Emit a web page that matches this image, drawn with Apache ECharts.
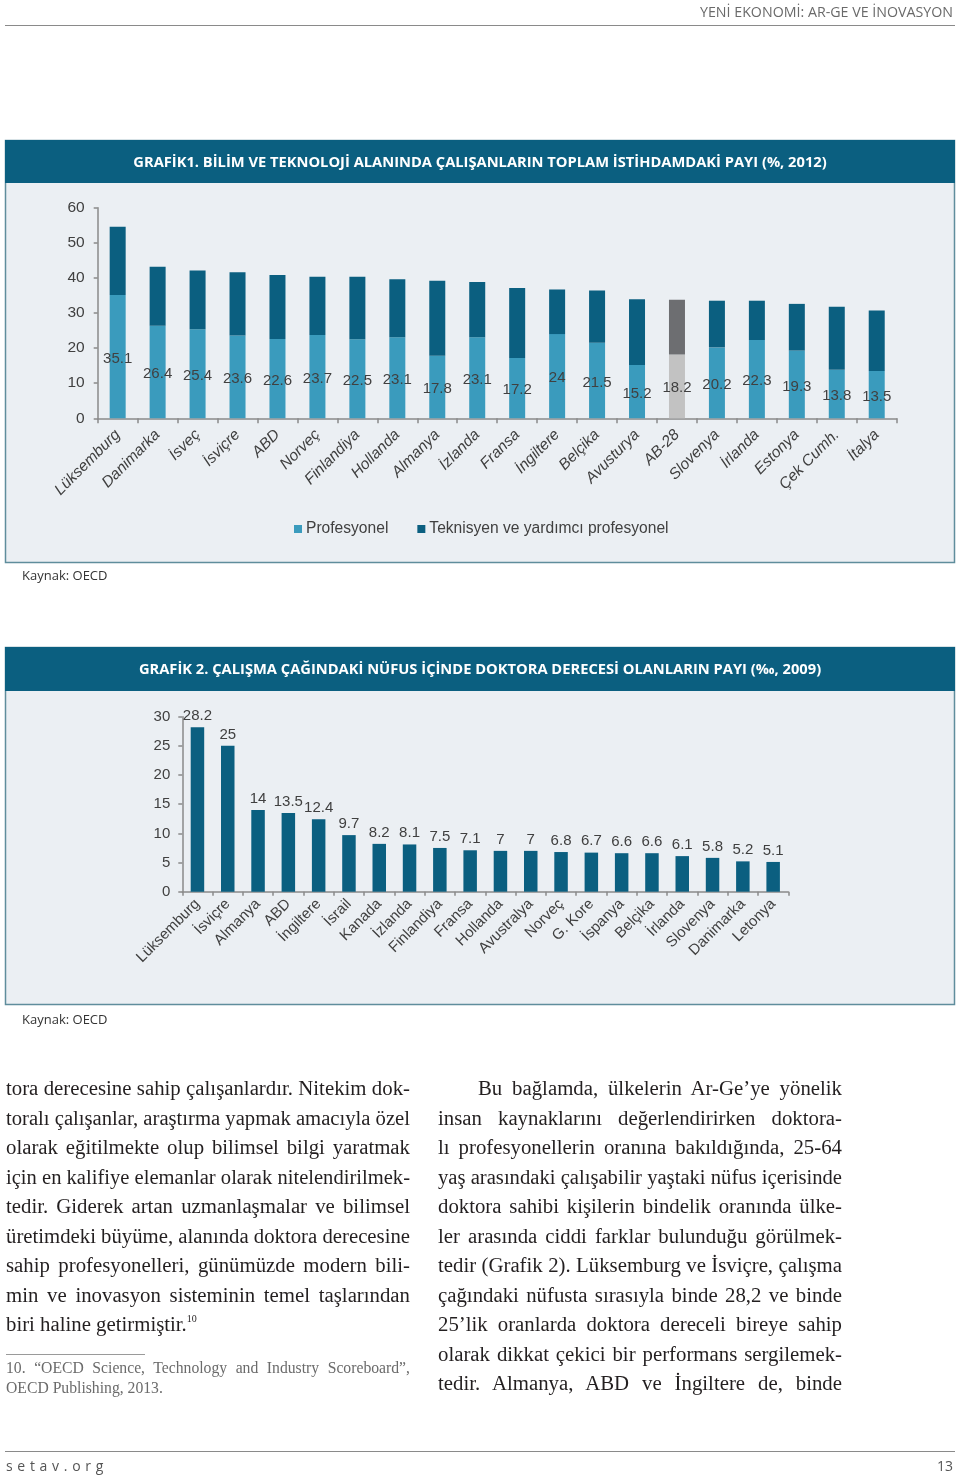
<!DOCTYPE html>
<html><head><meta charset="utf-8">
<script src="https://cdn.jsdelivr.net/npm/echarts@6.0.0/dist/echarts.min.js"></script>
<style>
html,body{margin:0;padding:0;background:#fff;}
#page{position:relative;width:960px;height:1476px;overflow:hidden;background:#fff;}
#chart{position:absolute;left:0;top:0;width:960px;height:1476px;}
.abs{position:absolute;white-space:nowrap;}
.rule{position:absolute;height:0;border-top:1px solid #8a8a8a;}
.col{position:absolute;font-family:'Liberation Serif','DejaVu Serif',serif;font-size:20.8px;color:#231f20;}
.ln{height:29.5px;line-height:29.5px;white-space:nowrap;}
.ln span{display:inline-block;white-space:nowrap;transform-origin:left center;}
sup{font-size:10px;vertical-align:9px;line-height:0;}
</style>
</head><body>
<div id="page">
<div id="chart"></div>
<div class="abs" id="runhead" style="right:7px;top:2px;font-family:'Open Sans',sans-serif;font-size:14px;color:#6a6a6a;transform-origin:right center;">YENİ EKONOMİ: AR-GE VE İNOVASYON</div>
<div class="rule" style="left:5px;width:950px;top:25px;"></div>

<div class="col" id="left" style="left:6px;top:1073px;width:404px;">
<div class="ln j"><span>tora derecesine sahip çalışanlardır. Nitekim dok-</span></div>
<div class="ln j"><span>toralı çalışanlar, araştırma yapmak amacıyla özel</span></div>
<div class="ln j"><span>olarak eğitilmekte olup bilimsel bilgi yaratmak</span></div>
<div class="ln j"><span>için en kalifiye elemanlar olarak nitelendirilmek-</span></div>
<div class="ln j"><span>tedir. Giderek artan uzmanlaşmalar ve bilimsel</span></div>
<div class="ln j"><span>üretimdeki büyüme, alanında doktora derecesine</span></div>
<div class="ln j"><span>sahip profesyonelleri, günümüzde modern bili-</span></div>
<div class="ln j"><span>min ve inovasyon sisteminin temel taşlarından</span></div>
<div class="ln"><span>biri haline getirmiştir.<sup>10</sup></span></div>
</div>
<div class="rule" style="left:6px;width:139px;top:1354px;border-top-color:#9a9a9a;"></div>
<div class="col" style="left:6px;top:1358px;width:404px;font-size:15.7px;color:#6b6b6b;">
<div class="ln j" style="height:20px;line-height:20px;"><span>10. “OECD Science, Technology and Industry Scoreboard”,</span></div>
<div class="ln" style="height:20px;line-height:20px;"><span>OECD Publishing, 2013.</span></div>
</div>

<div class="col" id="right" style="left:438px;top:1073px;width:404px;">
<div class="ln j" style="padding-left:40px;"><span>Bu bağlamda, ülkelerin Ar-Ge’ye yönelik</span></div>
<div class="ln j"><span>insan kaynaklarını değerlendirirken doktora-</span></div>
<div class="ln j"><span>lı profesyonellerin oranına bakıldığında, 25-64</span></div>
<div class="ln j"><span>yaş arasındaki çalışabilir yaştaki nüfus içerisinde</span></div>
<div class="ln j"><span>doktora sahibi kişilerin bindelik oranında ülke-</span></div>
<div class="ln j"><span>ler arasında ciddi farklar bulunduğu görülmek-</span></div>
<div class="ln j"><span>tedir (Grafik 2). Lüksemburg ve İsviçre, çalışma</span></div>
<div class="ln j"><span>çağındaki nüfusta sırasıyla binde 28,2 ve binde</span></div>
<div class="ln j"><span>25’lik oranlarda doktora dereceli bireye sahip</span></div>
<div class="ln j"><span>olarak dikkat çekici bir performans sergilemek-</span></div>
<div class="ln j"><span>tedir. Almanya, ABD ve İngiltere de, binde</span></div>
</div>

<div class="rule" style="left:5px;width:950px;top:1451px;"></div>
<div class="abs" style="left:6px;top:1456px;font-family:'Open Sans',sans-serif;font-size:14px;color:#555;letter-spacing:4.7px;">setav.org</div>
<div class="abs" style="right:7px;top:1456px;font-family:'Open Sans',sans-serif;font-size:14px;color:#555;">13</div>
</div>

<script>
// ---- Data: Grafik 1 ----
const cats1 = ['Lüksemburg','Danimarka','İsveç','İsviçre','ABD','Norveç','Finlandiya','Hollanda','Almanya','İzlanda','Fransa','İngiltere','Belçika','Avusturya','AB-28','Slovenya','İrlanda','Estonya','Çek Cumh.','İtalya'];
const profesyonel = [35.1,26.4,25.4,23.6,22.6,23.7,22.5,23.1,17.8,23.1,17.2,24,21.5,15.2,18.2,20.2,22.3,19.3,13.8,13.5];
const teknisyen = [19.5,16.8,16.7,18.0,18.2,16.6,17.8,16.5,21.4,15.7,19.9,12.7,14.9,18.7,15.6,13.3,11.2,13.3,18.0,17.2];
const ticks1 = [0,10,20,30,40,50,60];
const highlightCat = 'AB-28';

// ---- Data: Grafik 2 ----
const cats2 = ['Lüksemburg','İsviçre','Almanya','ABD','İngiltere','İsrail','Kanada','İzlanda','Finlandiya','Fransa','Hollanda','Avustralya','Norveç','G. Kore','İspanya','Belçika','İrlanda','Slovenya','Danimarka','Letonya'];
const doktora = [28.2,25,14,13.5,12.4,9.7,8.2,8.1,7.5,7.1,7,7,6.8,6.7,6.6,6.6,6.1,5.8,5.2,5.1];
const ticks2 = [0,5,10,15,20,25,30];

const C_LIGHT = '#3a9bbd', C_DARK = '#0b5f80', G_LIGHT = '#c2c2c2', G_DARK = '#6d6e71';
const AXIS = '#8a8a8a', TXT = '#404040';
const SANS = "'Liberation Sans', Arial, sans-serif";

const chart = echarts.init(document.getElementById('chart'), null, {renderer:'canvas'});

const profData = profesyonel.map((v,i)=> cats1[i]===highlightCat ? {value:v,itemStyle:{color:G_LIGHT}} : v);
const techData = teknisyen.map((v,i)=> cats1[i]===highlightCat ? {value:v,itemStyle:{color:G_DARK}} : v);

const option = {
  animation:false,
  textStyle:{fontFamily:SANS},
  graphic:[
    {type:'rect',z:-10,shape:{x:5.5,y:140.5,width:949,height:422},style:{fill:'#ebeff3',stroke:'#5f8d9c',lineWidth:1.5}},
    {type:'rect',z:-9,shape:{x:5,y:140,width:950,height:43},style:{fill:C_DARK}},
    {type:'text',z:-8,x:480,y:163,style:{text:'GRAFİK1. BİLİM VE TEKNOLOJİ ALANINDA ÇALIŞANLARIN TOPLAM İSTİHDAMDAKİ PAYI (%, 2012)',fill:'#fff',font:"bold 14.7px 'Open Sans', sans-serif",textAlign:'center',textVerticalAlign:'middle'}},
    {type:'text',z:-8,x:22,y:576,style:{text:'Kaynak: OECD',fill:'#333',font:"13px 'Open Sans', sans-serif",textVerticalAlign:'middle'}},
    {type:'rect',z:-10,shape:{x:5.5,y:647.5,width:949,height:357},style:{fill:'#ebeff3',stroke:'#5f8d9c',lineWidth:1.5}},
    {type:'rect',z:-9,shape:{x:5,y:647,width:950,height:44},style:{fill:C_DARK}},
    {type:'text',z:-8,x:480,y:670,style:{text:'GRAFİK 2. ÇALIŞMA ÇAĞINDAKİ NÜFUS İÇİNDE DOKTORA DERECESİ OLANLARIN PAYI (‰, 2009)',fill:'#fff',font:"bold 14.7px 'Open Sans', sans-serif",textAlign:'center',textVerticalAlign:'middle'}},
    {type:'text',z:-8,x:22,y:1020,style:{text:'Kaynak: OECD',fill:'#333',font:"13px 'Open Sans', sans-serif",textVerticalAlign:'middle'}}
  ],
  legend:{
    data:['Profesyonel','Teknisyen ve yardımcı profesyonel'],
    left:289, top:516, itemWidth:8, itemHeight:8, itemGap:29,
    icon:'rect',
    textStyle:{fontSize:15.6,color:TXT,fontFamily:SANS,padding:[0,0,0,-1]}
  },
  grid:[
    {left:97.7, top:207.7, width:799, height:210.6, containLabel:false},
    {left:182.3, top:716.7, width:606, height:175, containLabel:false}
  ],
  xAxis:[
    {type:'category',gridIndex:0,data:cats1,
     axisLine:{lineStyle:{color:AXIS,width:1.5}},
     axisTick:{show:true,alignWithLabel:false,length:5,lineStyle:{color:AXIS,width:1.5}},
     axisLabel:{rotate:45,fontSize:15.5,color:TXT,fontStyle:'italic',margin:14,interval:0,fontFamily:SANS}},
    {type:'category',gridIndex:1,data:cats2,
     axisLine:{lineStyle:{color:AXIS,width:1.5}},
     axisTick:{show:true,length:4,lineStyle:{color:AXIS,width:1.5}},
     axisLabel:{rotate:45,fontSize:15,color:TXT,margin:10,interval:0,fontFamily:SANS}}
  ],
  yAxis:[
    {type:'value',gridIndex:0,min:ticks1[0],max:ticks1[ticks1.length-1],interval:ticks1[1]-ticks1[0],
     axisLine:{show:true,lineStyle:{color:AXIS,width:1.5}},
     axisTick:{show:true,length:4,lineStyle:{color:AXIS,width:1.5}},
     splitLine:{show:false},
     axisLabel:{fontSize:15.5,color:TXT,margin:13,fontFamily:SANS}},
    {type:'value',gridIndex:1,min:ticks2[0],max:ticks2[ticks2.length-1],interval:ticks2[1]-ticks2[0],
     axisLine:{show:true,lineStyle:{color:AXIS,width:1.5}},
     axisTick:{show:true,length:4,lineStyle:{color:AXIS,width:1.5}},
     splitLine:{show:false},
     axisLabel:{fontSize:15,color:TXT,margin:12,fontFamily:SANS}}
  ],
  series:[
    {name:'Profesyonel',type:'bar',stack:'g1',xAxisIndex:0,yAxisIndex:0,data:profData,barWidth:16,
     itemStyle:{color:C_LIGHT},
     label:{show:true,position:'inside',color:TXT,fontSize:15,fontFamily:SANS,offset:[0,2]}},
    {name:'Teknisyen ve yardımcı profesyonel',type:'bar',stack:'g1',xAxisIndex:0,yAxisIndex:0,data:techData,barWidth:16,
     itemStyle:{color:C_DARK}},
    {name:'Doktora',type:'bar',xAxisIndex:1,yAxisIndex:1,data:doktora,barWidth:13.5,
     itemStyle:{color:C_DARK},
     label:{show:true,position:'top',distance:4,color:TXT,fontSize:15,fontFamily:SANS}}
  ]
};
chart.setOption(option);

// Justify paragraph lines like the printed page
function layoutLines(){
  document.querySelectorAll('.ln').forEach(ln=>{
    const sp = ln.querySelector('span');
    const pad = parseFloat(getComputedStyle(ln).paddingLeft)||0;
    const target = ln.parentElement.clientWidth - pad;
    sp.style.wordSpacing='0px'; sp.style.transform='';
    const w = sp.getBoundingClientRect().width;
    if (w > target) {
      sp.style.transform = 'scaleX(' + (target/w) + ')';
    } else if (ln.classList.contains('j')) {
      const spaces = (sp.textContent.match(/ /g)||[]).length;
      if (spaces>0) sp.style.wordSpacing = ((target-w)/spaces) + 'px';
    }
  });
  const rh = document.getElementById('runhead');
  const rw = rh.getBoundingClientRect().width;
  rh.style.transform = 'scaleX(' + (253/rw) + ')';
}
layoutLines();
</script>
</body></html>
